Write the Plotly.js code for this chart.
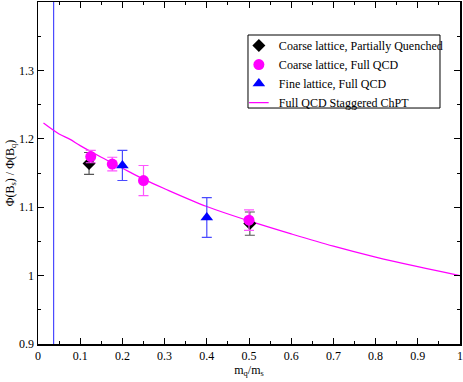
<!DOCTYPE html>
<html><head><meta charset="utf-8">
<script src="https://cdn.plot.ly/plotly-3.0.1.min.js"></script>
<style>html,body{margin:0;padding:0;background:#fff}#chart{width:463px;height:382px}</style>
</head><body><div id="chart"></div>
<script>
// Coarse lattice, Partially Quenched
const pqX = [0.121, 0.502];
const pqY = [1.164, 1.076];
const pqErr = [0.016, 0.017];
// Coarse lattice, Full QCD
const cfX = [0.125, 0.176, 0.25, 0.5];
const cfY = [1.174, 1.163, 1.139, 1.081];
const cfErr = [0.009, 0.010, 0.022, 0.015];
// Fine lattice, Full QCD
const fX = [0.2, 0.4];
const fY = [1.161, 1.085];
const fErr = [0.022, 0.029];
// Full QCD Staggered ChPT curve
const curveX = [0.013, 0.05, 0.075, 0.1, 0.15, 0.2, 0.25, 0.3, 0.4, 0.5, 0.6, 0.7, 0.8, 0.9, 1.0];
const curveY = [1.223, 1.207, 1.1995, 1.19, 1.173, 1.157, 1.141, 1.127, 1.101, 1.080, 1.061, 1.043, 1.027, 1.013, 1.0];
// physical point vertical line
const physX = [0.037, 0.037];
const physY = [0.9, 1.4];
const xTicks = [0, 0.1, 0.2, 0.3, 0.4, 0.5, 0.6, 0.7, 0.8, 0.9, 1];
const xTickText = ["0", "0.1", "0.2", "0.3", "0.4", "0.5", "0.6", "0.7", "0.8", "0.9", "1"];
const yTicks = [0.9, 1.0, 1.1, 1.2, 1.3];
const yTickText = ["0.9", "1", "1.1", "1.2", "1.3"];

const FONT = "'Liberation Serif', 'Times New Roman', serif";

const traces = [
  {x: physX, y: physY, mode: 'lines', line: {color: '#4a4aff', width: 1.2}, showlegend: false, hoverinfo: 'skip'},
  {x: curveX, y: curveY, mode: 'lines', line: {color: '#ff00ff', width: 1.2, shape: 'spline'}, showlegend: false},
  {x: pqX, y: pqY, mode: 'markers', name: 'Coarse lattice, Partially Quenched',
   marker: {symbol: 'diamond', color: '#000000', size: 10},
   error_y: {type: 'data', array: pqErr, visible: true, color: '#555555', thickness: 1.2, width: 5}},
  {x: cfX, y: cfY, mode: 'markers', name: 'Coarse lattice, Full QCD',
   marker: {symbol: 'circle', color: '#ff00ff', size: 11},
   error_y: {type: 'data', array: cfErr, visible: true, color: '#ff55ff', thickness: 1.2, width: 5}},
  {x: fX, y: fY, mode: 'markers', name: 'Fine lattice, Full QCD',
   marker: {symbol: 'triangle-up', color: '#0000ff', size: 11},
   error_y: {type: 'data', array: fErr, visible: true, color: '#4a4aff', thickness: 1.2, width: 5}},
  {x: [null], y: [null], mode: 'markers', name: 'Full QCD Staggered ChPT',
   marker: {symbol: 'line-ew', size: 14, color: '#ff00ff', line: {color: '#ff00ff', width: 1.2}}}
];

const axisCommon = {
  showgrid: false, zeroline: false, showline: true, linecolor: '#000', linewidth: 1.5,
  mirror: 'allticks', ticks: 'inside', ticklen: 6, tickwidth: 1, tickcolor: '#000',
  automargin: false, ticklabeloverflow: 'allow',
  tickfont: {family: FONT, size: 12, color: '#000'}
};

const layout = {
  width: 463, height: 382,
  margin: {l: 38, r: 3, t: 2, b: 38, autoexpand: false},
  paper_bgcolor: '#fff', plot_bgcolor: '#fff',
  font: {family: FONT, size: 12, color: '#000'},
  xaxis: Object.assign({}, axisCommon, {
    range: [0, 1], tickvals: xTicks, ticktext: xTickText,
    minor: {ticks: 'inside', ticklen: 3, dtick: 0.05, tick0: 0, tickcolor: '#000'},
    title: {text: 'm<sub>q</sub>/m<sub>s</sub>', font: {family: FONT, size: 12}, standoff: 3}
  }),
  yaxis: Object.assign({}, axisCommon, {
    range: [0.9, 1.4], tickvals: yTicks, ticktext: yTickText,
    minor: {ticks: 'inside', ticklen: 3, dtick: 0.05, tick0: 0.9, tickcolor: '#000'},
    title: {text: 'Φ(B<sub>s</sub>) / Φ(B<sub>q</sub>)', font: {family: FONT, size: 12}, standoff: 2}
  }),
  legend: {
    x: 0.476, y: 0.915, xanchor: 'left', yanchor: 'top',
    bgcolor: 'rgba(0,0,0,0)', borderwidth: 0,
    font: {family: FONT, size: 12, color: '#000'},
    tracegroupgap: 0, itemwidth: 30
  },
  shapes: [{
    type: 'rect', xref: 'paper', yref: 'paper',
    x0: 0.4976, x1: 0.9526, y0: 0.690, y1: 0.9035,
    line: {color: '#000', width: 1}, fillcolor: '#fff', layer: 'below'
  }],
  showlegend: true
};

Plotly.newPlot('chart', traces, layout, {displayModeBar: false, staticPlot: true});
</script>
</body></html>
